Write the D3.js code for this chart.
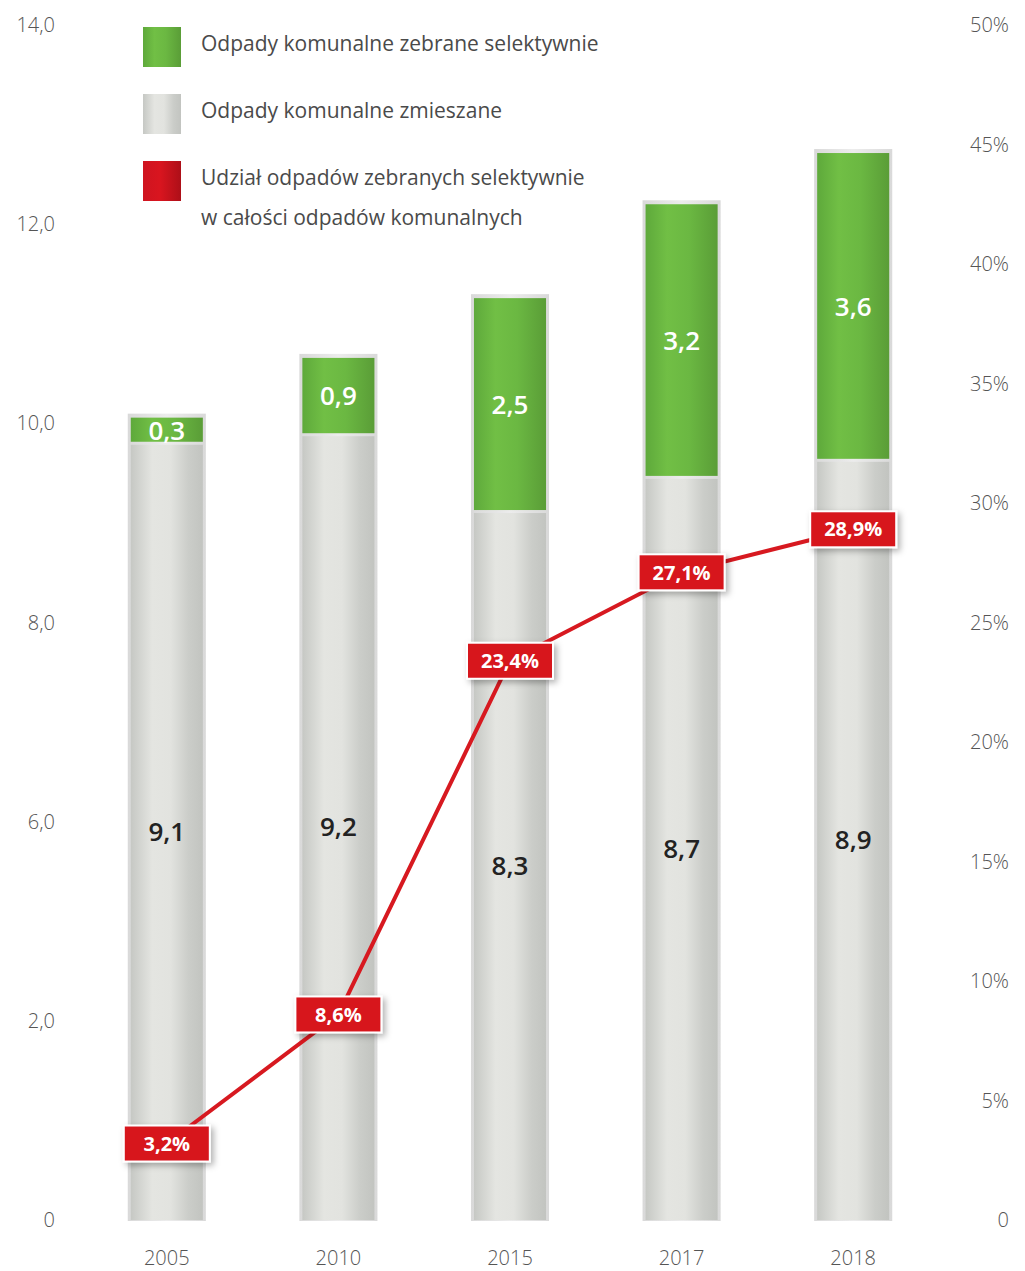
<!DOCTYPE html>
<html>
<head>
<meta charset="utf-8">
<script src="https://cdn.jsdelivr.net/npm/d3@7"></script>
<style>
  body { margin: 0; background: #fff; }
  svg { display: block; font-family: "Open Sans", "Noto Sans", sans-serif; }
</style>
</head>
<body>
<svg id="chart" width="1025" height="1271"></svg>
<script>
// Municipal waste in Poland (mln t) and share of selectively collected waste
const years = ["2005", "2010", "2015", "2017", "2018"];
const mixedWaste = [9.1, 9.2, 8.3, 8.7, 8.9];
const selectiveWaste = [0.3, 0.9, 2.5, 3.2, 3.6];
const selectiveShare = [3.2, 8.6, 23.4, 27.1, 28.9];
const leftTickLabels = ["0", "2,0", "6,0", "8,0", "10,0", "12,0", "14,0"];
const rightTicks = [0, 5, 10, 15, 20, 25, 30, 35, 40, 45, 50];
const legendItems = [
  { key: "green", lines: ["Odpady komunalne zebrane selektywnie"] },
  { key: "grey", lines: ["Odpady komunalne zmieszane"] },
  { key: "red", lines: ["Udział odpadów zebranych selektywnie", "w całości odpadów komunalnych"] }
];

const fmt = v => String(v).replace(".", ",");

const svg = d3.select("#chart");
const defs = svg.append("defs");

function hGradient(id, stops) {
  const g = defs.append("linearGradient").attr("id", id)
    .attr("x1", "0%").attr("x2", "100%").attr("y1", "0%").attr("y2", "0%");
  stops.forEach(([o, c]) => g.append("stop").attr("offset", o).attr("stop-color", c));
}
hGradient("gGrey", [["0%", "#c6c8c4"], ["30%", "#e4e5e1"], ["55%", "#e2e3df"], ["80%", "#cbcdc9"], ["100%", "#c2c4c0"]]);
hGradient("gGreen", [["0%", "#5ea93b"], ["30%", "#71bf45"], ["60%", "#6bb842"], ["100%", "#5a9d37"]]);
hGradient("gRed", [["0%", "#cf1420"], ["45%", "#d9151f"], ["100%", "#ad0f18"]]);
hGradient("gFrame", [["0%", "#d9d9d9"], ["50%", "#ececec"], ["100%", "#d9d9d9"]]);

const shadow = defs.append("filter").attr("id", "shadow")
  .attr("x", "-20%").attr("y", "-30%").attr("width", "150%").attr("height", "180%");
shadow.append("feDropShadow").attr("dx", 3).attr("dy", 3)
  .attr("stdDeviation", 3).attr("flood-color", "#000").attr("flood-opacity", 0.3);

const baseY = 1220, topY = 25;
const y = d3.scaleLinear().domain([0, 14]).range([baseY, topY]);
const yR = d3.scaleLinear().domain([0, 50]).range([baseY, topY]);
const x = d3.scaleBand().domain(years).range([81, 939]).paddingInner(0.58).paddingOuter(0.29);
const bw = x.bandwidth();
const cx = d => x(d) + bw / 2;

// Left axis labels, spread evenly along the value range
const leftPos = d3.scalePoint().domain(leftTickLabels).range([0, 14]);
svg.append("g").selectAll("text").data(leftTickLabels).join("text")
  .attr("x", 55).attr("y", d => y(leftPos(d)))
  .attr("text-anchor", "end").attr("dy", "0.35em")
  .attr("font-size", 20).attr("fill", "#555").attr("font-weight", 300)
  .text(d => d);

// Right axis labels (percent)
svg.append("g").selectAll("text").data(rightTicks).join("text")
  .attr("x", 1009).attr("y", d => yR(d))
  .attr("text-anchor", "end").attr("dy", "0.35em")
  .attr("font-size", 20).attr("fill", "#555").attr("font-weight", 300)
  .text(d => d === 0 ? "0" : d + "%");

// Year labels
svg.append("g").selectAll("text").data(years).join("text")
  .attr("x", d => cx(d)).attr("y", 1258)
  .attr("text-anchor", "middle").attr("dy", "0.35em")
  .attr("font-size", 20).attr("fill", "#555").attr("font-weight", 300)
  .text(d => d);

// Stacked bars
const data = years.map((yr, i) => ({ yr, mixed: mixedWaste[i], sel: selectiveWaste[i] }));
const bars = svg.append("g").selectAll("g").data(data).join("g");

bars.append("rect")
  .attr("x", d => x(d.yr) - 3).attr("width", bw + 6)
  .attr("y", d => y(d.mixed + d.sel) - 4)
  .attr("height", d => baseY + 1 - y(d.mixed + d.sel) + 4)
  .attr("fill", "url(#gFrame)");

bars.append("rect")
  .attr("x", d => x(d.yr)).attr("width", bw)
  .attr("y", d => y(d.mixed) + 1.5)
  .attr("height", d => baseY - y(d.mixed) - 1.5)
  .attr("fill", "url(#gGrey)");

bars.append("rect")
  .attr("x", d => x(d.yr)).attr("width", bw)
  .attr("y", d => y(d.mixed + d.sel))
  .attr("height", d => y(d.mixed) - y(d.mixed + d.sel) - 1.5)
  .attr("fill", "url(#gGreen)");

bars.append("text")
  .attr("x", d => cx(d.yr)).attr("y", d => (y(d.mixed) + baseY) / 2)
  .attr("text-anchor", "middle").attr("dy", "0.35em")
  .attr("font-size", 26).attr("font-weight", 600).attr("fill", "#222")
  .text(d => fmt(d.mixed));

bars.append("text")
  .attr("x", d => cx(d.yr)).attr("y", d => (y(d.mixed) + y(d.mixed + d.sel)) / 2)
  .attr("text-anchor", "middle").attr("dy", "0.35em")
  .attr("font-size", 26).attr("font-weight", 600).attr("fill", "#fff")
  .text(d => fmt(d.sel));

// Share line
const pts = years.map((yr, i) => [cx(yr), yR(selectiveShare[i])]);
svg.append("path").datum(pts)
  .attr("d", d3.line())
  .attr("fill", "none").attr("stroke", "#d71920").attr("stroke-width", 4);

// Share value boxes
const boxes = svg.append("g").selectAll("g").data(years.map((yr, i) => ({ yr, v: selectiveShare[i] }))).join("g")
  .attr("transform", d => `translate(${cx(d.yr)},${yR(d.v)})`);
boxes.append("rect")
  .attr("x", -43).attr("y", -18).attr("width", 86).attr("height", 36)
  .attr("fill", "#d7141f").attr("stroke", "#fff").attr("stroke-width", 2)
  .attr("filter", "url(#shadow)");
boxes.append("text")
  .attr("text-anchor", "middle").attr("dy", "0.36em")
  .attr("font-size", 20).attr("font-weight", 700).attr("fill", "#fff")
  .text(d => fmt(d.v) + "%");

// Legend
const legendFill = { green: "url(#gGreen)", grey: "url(#gGrey)", red: "url(#gRed)" };
const legendY = [27, 94, 161];
const lg = svg.append("g").selectAll("g").data(legendItems).join("g")
  .attr("transform", (d, i) => `translate(143,${legendY[i]})`);
lg.append("rect").attr("width", 38).attr("height", 40).attr("fill", d => legendFill[d.key]);
lg.each(function (d) {
  d3.select(this).selectAll("text").data(d.lines).join("text")
    .attr("x", 58).attr("y", (t, j) => 17 + j * 40)
    .attr("dy", "0.35em")
    .attr("font-size", 21).attr("fill", "#4a4a4a").attr("font-weight", 400)
    .text(t => t);
});
</script>
</body>
</html>
